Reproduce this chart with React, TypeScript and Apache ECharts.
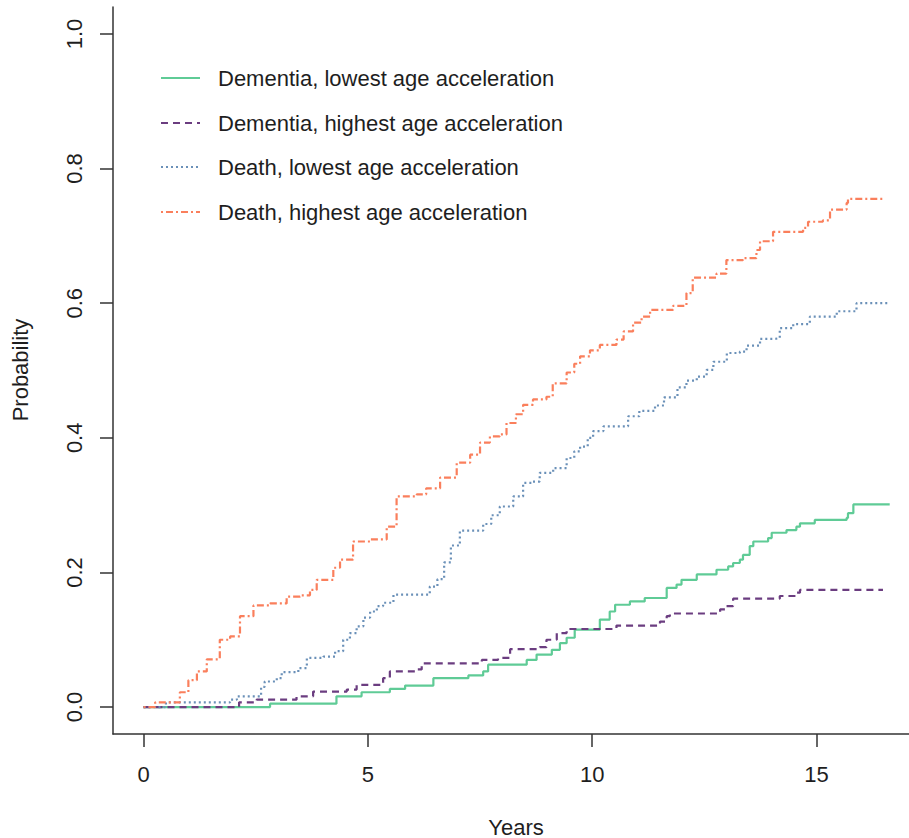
import React, { useEffect, useRef } from "react";
import * as echarts from "echarts";

// Dementia, lowest age acceleration (step times in years, cumulative probability)
const greenYears = [0, 2.82, 4.30, 4.86, 5.49, 5.83, 6.46, 7.24, 7.57, 7.68, 8.54, 8.76, 9.10, 9.28, 9.43, 9.61, 10.17, 10.39, 10.51, 10.84, 11.17, 11.66, 11.88, 11.99, 12.33, 12.77, 13.03, 13.14, 13.29, 13.36, 13.51, 13.59, 13.92, 14.0, 14.33, 14.55, 14.63, 14.96, 15.67, 15.70, 15.82, 16.63];
const greenProb = [0, 0.005, 0.016, 0.022, 0.027, 0.032, 0.043, 0.047, 0.053, 0.063, 0.07, 0.078, 0.085, 0.095, 0.103, 0.115, 0.13, 0.142, 0.152, 0.157, 0.162, 0.177, 0.182, 0.189, 0.197, 0.204, 0.209, 0.214, 0.219, 0.226, 0.239, 0.246, 0.251, 0.259, 0.263, 0.268, 0.273, 0.278, 0.281, 0.288, 0.301, 0.301];

// Dementia, highest age acceleration
const purpleYears = [0, 2.13, 2.52, 3.41, 3.78, 4.53, 4.75, 5.34, 5.49, 6.09, 6.20, 7.54, 7.90, 8.17, 8.83, 8.98, 9.21, 9.43, 10.54, 11.51, 11.66, 11.73, 12.85, 12.99, 13.14, 14.18, 14.55, 14.63, 16.48];
const purpleProb = [0, 0.007, 0.011, 0.016, 0.023, 0.026, 0.033, 0.043, 0.053, 0.056, 0.065, 0.07, 0.073, 0.086, 0.089, 0.10, 0.11, 0.116, 0.121, 0.127, 0.135, 0.139, 0.145, 0.15, 0.161, 0.165, 0.17, 0.174, 0.174];

// Death, lowest age acceleration
const blueYears = [0, 0.5, 1.93, 2.08, 2.62, 2.70, 2.97, 3.08, 3.45, 3.64, 4.01, 4.27, 4.45, 4.6, 4.75, 4.9, 5.05, 5.2, 5.34, 5.57, 6.38, 6.55, 6.7, 6.85, 7.05, 7.57, 7.75, 7.94, 8.24, 8.46, 8.68, 8.83, 9.13, 9.43, 9.6, 9.73, 9.9, 10.02, 10.25, 10.80, 11.05, 11.4, 11.6, 11.9, 12.1, 12.33, 12.55, 12.70, 13.0, 13.29, 13.44, 13.74, 14.07, 14.18, 14.48, 14.85, 15.45, 15.89, 16.63];
const blueProb = [0, 0.007, 0.011, 0.016, 0.03, 0.038, 0.043, 0.052, 0.058, 0.073, 0.075, 0.083, 0.10, 0.11, 0.12, 0.133, 0.142, 0.15, 0.155, 0.167, 0.179, 0.19, 0.215, 0.24, 0.262, 0.272, 0.285, 0.298, 0.313, 0.333, 0.335, 0.348, 0.355, 0.37, 0.38, 0.387, 0.40, 0.41, 0.417, 0.432, 0.44, 0.448, 0.46, 0.475, 0.485, 0.491, 0.501, 0.513, 0.526, 0.528, 0.537, 0.547, 0.548, 0.563, 0.569, 0.580, 0.588, 0.600, 0.600];

// Death, highest age acceleration
const orangeYears = [0, 0.26, 0.63, 0.81, 1.0, 1.19, 1.41, 1.70, 1.93, 2.15, 2.45, 2.82, 3.19, 3.49, 3.71, 3.86, 4.23, 4.38, 4.67, 5.05, 5.42, 5.64, 6.09, 6.3, 6.61, 6.98, 7.28, 7.50, 7.72, 7.94, 8.09, 8.3, 8.46, 8.68, 8.98, 9.12, 9.43, 9.6, 9.73, 9.95, 10.17, 10.54, 10.7, 10.91, 11.1, 11.29, 11.80, 12.10, 12.24, 12.77, 12.99, 13.36, 13.66, 13.74, 14.03, 14.70, 14.81, 15.14, 15.30, 15.67, 15.70, 16.48];
const orangeProb = [0, 0.007, 0.007, 0.022, 0.04, 0.053, 0.071, 0.10, 0.105, 0.135, 0.151, 0.154, 0.164, 0.166, 0.174, 0.189, 0.207, 0.219, 0.246, 0.249, 0.268, 0.313, 0.316, 0.325, 0.341, 0.363, 0.375, 0.393, 0.402, 0.405, 0.422, 0.435, 0.449, 0.457, 0.461, 0.481, 0.497, 0.51, 0.521, 0.53, 0.538, 0.546, 0.558, 0.571, 0.58, 0.590, 0.596, 0.615, 0.638, 0.644, 0.664, 0.667, 0.679, 0.692, 0.706, 0.712, 0.721, 0.723, 0.739, 0.749, 0.755, 0.755];

const seriesNames = [
  "Dementia, lowest age acceleration",
  "Dementia, highest age acceleration",
  "Death, lowest age acceleration",
  "Death, highest age acceleration",
];
const xTicks = [0, 5, 10, 15];
const yTicks = [0, 0.2, 0.4, 0.6, 0.8, 1.0];

const colors = ["#5fcb96", "#6b3d80", "#6a90b8", "#fa7f5c"];
const dashes: (number[] | "solid")[] = ["solid", [7, 5], [2, 3], [2, 3, 7, 3]];
const FONT = "'Liberation Sans', Arial, Helvetica, sans-serif";
const FS = 22;

const zip = (xs: number[], ys: number[]) => xs.map((x, i) => [x, ys[i]]);

export default function App() {
  const ref = useRef<HTMLDivElement>(null);
  useEffect(() => {
    if (!ref.current) return;
    const chart = echarts.init(ref.current, undefined, { renderer: "svg" });
    const all = [
      zip(greenYears, greenProb),
      zip(purpleYears, purpleProb),
      zip(blueYears, blueProb),
      zip(orangeYears, orangeProb),
    ];
    const legendY = [78, 123, 167, 212];
    const graphic: any[] = [];
    seriesNames.forEach((n, i) => {
      graphic.push({
        type: "line",
        shape: { x1: 161, y1: legendY[i], x2: 200, y2: legendY[i] },
        style: {
          stroke: colors[i],
          lineWidth: 2.2,
          lineDash: dashes[i] === "solid" ? null : (dashes[i] as number[]),
        },
      });
      graphic.push({
        type: "text",
        x: 218,
        y: legendY[i],
        style: { text: n, font: `${FS}px ${FONT}`, fill: "#1e1e1e", textAlign: "left", textVerticalAlign: "middle" },
      });
    });
    graphic.push({
      type: "text",
      x: 516,
      y: 827,
      style: { text: "Years", font: `${FS}px ${FONT}`, fill: "#1e1e1e", textAlign: "center", textVerticalAlign: "middle" },
    });
    graphic.push({
      type: "text",
      x: 20,
      y: 370,
      rotation: Math.PI / 2,
      style: { text: "Probability", font: `${FS}px ${FONT}`, fill: "#1e1e1e", textAlign: "center", textVerticalAlign: "middle" },
    });

    chart.setOption({
      animation: false,
      backgroundColor: "#ffffff",
      textStyle: { fontFamily: FONT },
      grid: { left: 113, top: 7, width: 796, height: 727, containLabel: false },
      xAxis: {
        type: "value",
        min: -0.68,
        max: 17.06,
        splitLine: { show: false },
        axisLine: { show: true, onZero: false, lineStyle: { color: "#333", width: 1.5 } },
        axisTick: { show: true, length: 13, customValues: xTicks, lineStyle: { color: "#333", width: 1.5 } },
        axisLabel: { customValues: xTicks, margin: 29, fontSize: FS, color: "#1e1e1e", fontFamily: FONT, formatter: (v: number) => String(v) },
      },
      yAxis: {
        type: "value",
        min: -0.04,
        max: 1.04,
        splitLine: { show: false },
        axisLine: { show: true, onZero: false, lineStyle: { color: "#333", width: 1.5 } },
        axisTick: { show: true, length: 13, customValues: yTicks, lineStyle: { color: "#333", width: 1.5 } },
        axisLabel: { customValues: yTicks, rotate: 90, margin: 28, fontSize: FS, color: "#1e1e1e", fontFamily: FONT, formatter: (v: number) => v.toFixed(1) },
      },
      series: all.map((d, i) => ({
        type: "line",
        name: seriesNames[i],
        data: d,
        step: "end",
        showSymbol: false,
        symbol: "none",
        lineStyle: { color: colors[i], width: 2.2, type: dashes[i] },
        z: 2 + i,
      })),
      graphic,
    });
    return () => chart.dispose();
  }, []);
  return (
    <div
      ref={ref}
      style={{ position: "absolute", left: 0, top: 0, width: 909, height: 838, background: "#fff" }}
    />
  );
}
